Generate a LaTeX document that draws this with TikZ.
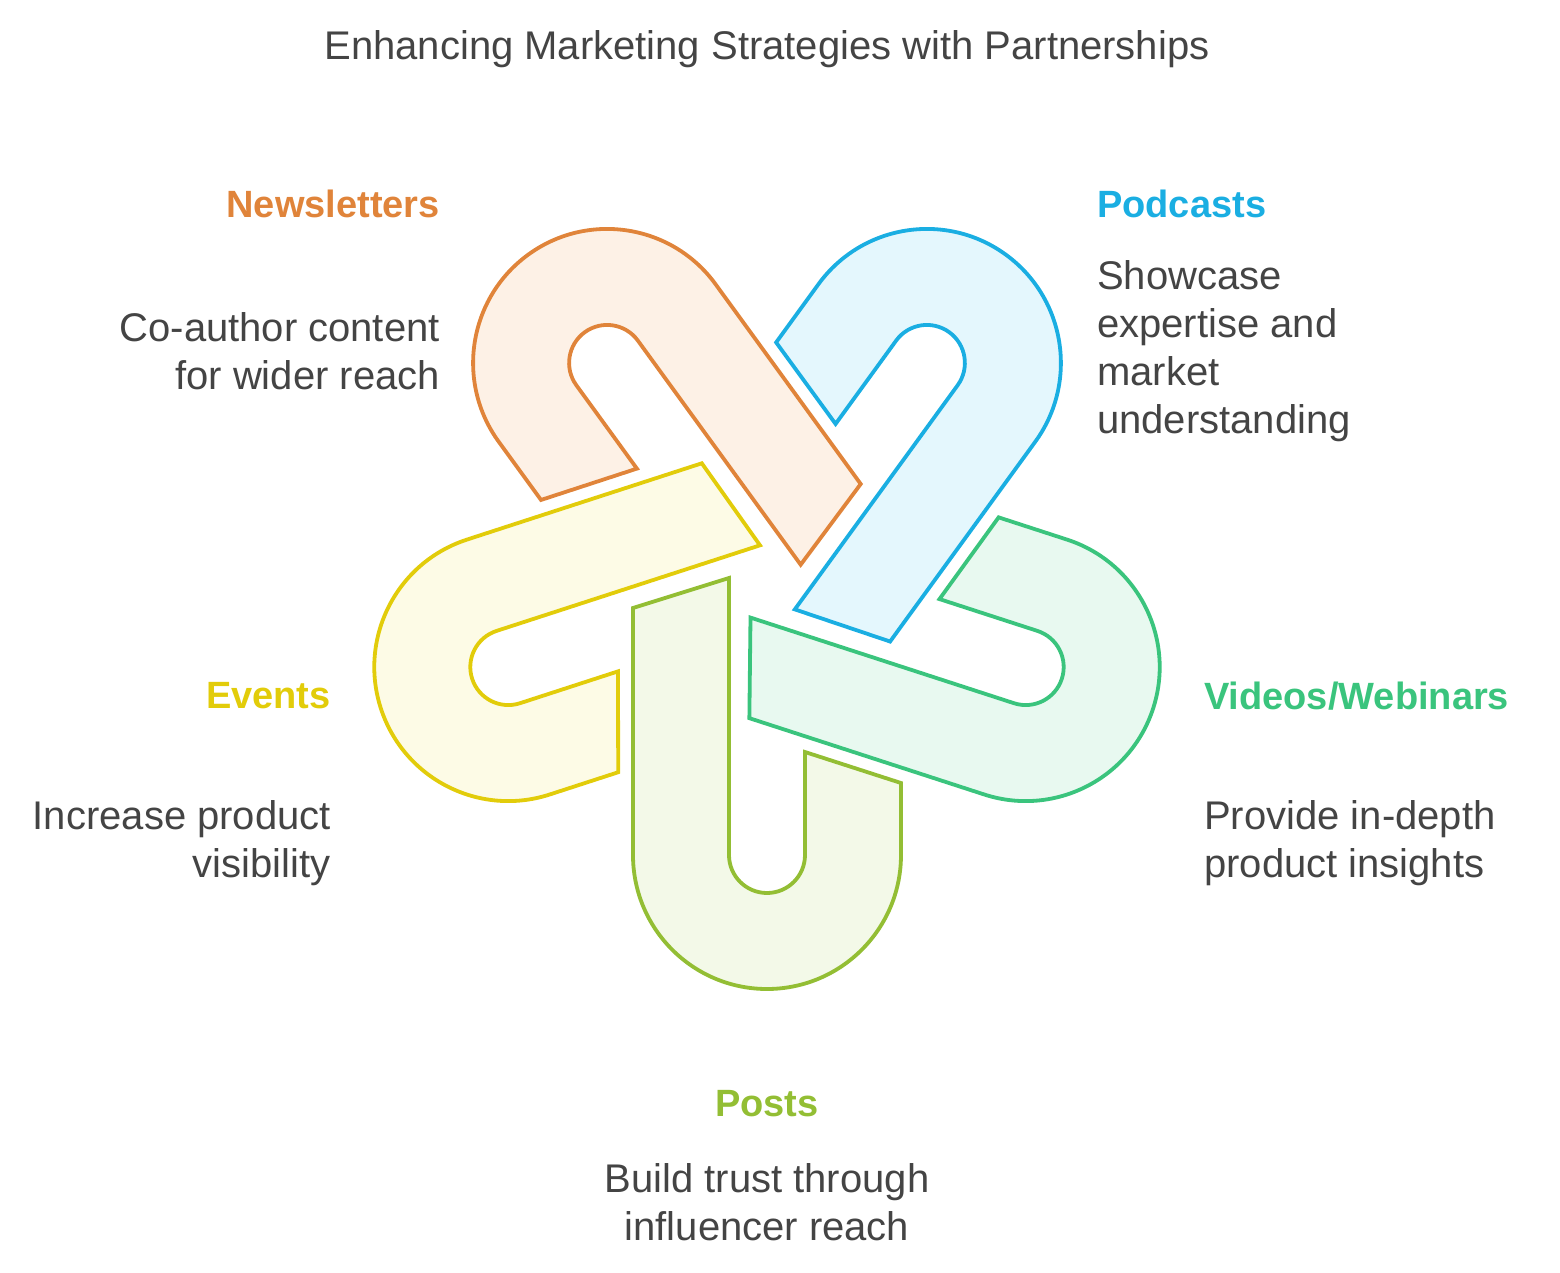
\documentclass[tikz,border=0pt]{standalone}
\usepackage{fontspec}
\setmainfont{Liberation Sans}
\definecolor{textgray}{HTML}{444444}
\definecolor{newsline}{HTML}{E0843A}
\definecolor{newsfill}{HTML}{FDF1E6}
\definecolor{podline}{HTML}{1AAEE2}
\definecolor{podfill}{HTML}{E4F7FD}
\definecolor{vidline}{HTML}{3AC47D}
\definecolor{vidfill}{HTML}{E8F9F0}
\definecolor{postline}{HTML}{93BE34}
\definecolor{postfill}{HTML}{F3F9E8}
\definecolor{evline}{HTML}{E2CC0A}
\definecolor{evfill}{HTML}{FDFBE6}
\begin{document}
\begin{tikzpicture}[
    x=1pt, y=1pt,
    hook/.pic={
      \path[pic actions] (-134,-25) -- (-134,-272)
        arc[start angle=180, end angle=360, radius=134] -- (134,-200) -- (38,-169)
        -- (38,-272) arc[start angle=0, end angle=-180, radius=38] -- (-38,5) -- cycle;
    },
    hookline/.style={line width=3.8pt},
    heading/.style={font=\fontsize{38}{48}\selectfont\bfseries, inner sep=0pt},
    body/.style={font=\fontsize{40}{48}\selectfont, text=textgray, inner sep=0pt}
]
\useasboundingbox (-767,-689) rectangle (793,583);

% Titolo
\node[body] (title) at (0,534) {Enhancing Marketing Strategies with Partnerships};

% Ganci
\pic[hookline, draw=postline, fill=postfill, rotate=0] at (0,0) {hook};
\pic[hookline, draw=vidline, fill=vidfill, rotate=72] at (0,0) {hook};
\pic[hookline, draw=podline, fill=podfill, rotate=144] at (0,0) {hook};
\pic[hookline, draw=newsline, fill=newsfill, rotate=216] at (0,0) {hook};
\pic[hookline, draw=evline, fill=evfill, rotate=288] at (0,0) {hook};

% Etichette
\node[heading, text=newsline, anchor=east] (news) at (-327,379) {Newsletters};
\node[body, align=right, anchor=east] (newstext) at (-327,232) {Co-author content\\for wider reach};

\node[heading, text=podline, anchor=west] (pod) at (330,379) {Podcasts};
\node[body, align=left, anchor=west] (podtext) at (330,232) {Showcase\\expertise and\\market\\understanding};

\node[heading, text=evline, anchor=east] (ev) at (-436,-113) {Events};
\node[body, align=right, anchor=east] (evtext) at (-436,-260) {Increase product\\visibility};

\node[heading, text=vidline, anchor=west] (vid) at (437,-113) {Videos/Webinars};
\node[body, align=left, anchor=west] (vidtext) at (437,-260) {Provide in-depth\\product insights};

\node[heading, text=postline] (post) at (0,-521) {Posts};
\node[body, align=center] (posttext) at (0,-619) {Build trust through\\influencer reach};
\end{tikzpicture}
\end{document}
